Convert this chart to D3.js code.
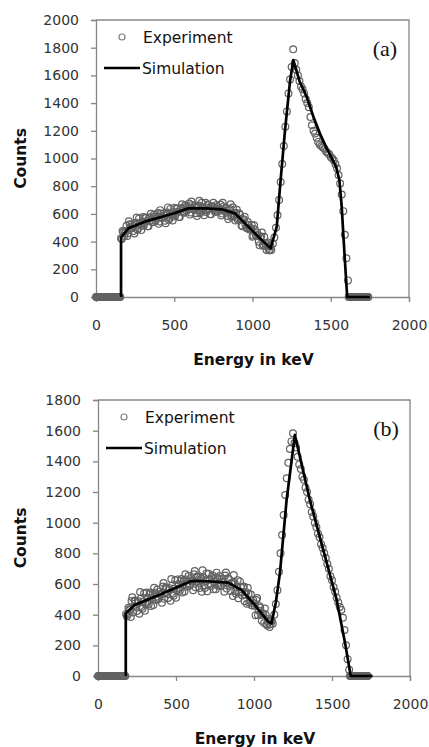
<!DOCTYPE html>
<html>
<head>
<meta charset="utf-8">
<script src="https://cdn.jsdelivr.net/npm/d3@7"></script>
<style>
  body { margin: 0; background: #fff; }
  svg { display: block; }
</style>
</head>
<body>
<div id="chart"></div>
<script>
// ---- data ----
const xTicks = [0, 500, 1000, 1500, 2000];
const yTicksA = [0, 200, 400, 600, 800, 1000, 1200, 1400, 1600, 1800, 2000];
const yTicksB = [0, 200, 400, 600, 800, 1000, 1200, 1400, 1600, 1800];
const legendLabels = ["Experiment", "Simulation"];

// simulation, panel (a)
const simA = [
  [160, 0], [160, 431], [207, 496], [313, 544], [420, 580], [500, 605], [590, 640],
  [700, 640], [803, 633], [888, 604], [973, 508], [1059, 411], [1116, 351],
  [1155, 508], [1176, 797], [1208, 1206], [1240, 1560], [1261, 1711], [1300, 1560],
  [1346, 1446], [1389, 1302], [1431, 1180], [1474, 1074], [1534, 941], [1555, 845],
  [1570, 652], [1585, 363], [1605, 0], [1750, 0]
];

// experiment, panel (a)
const expA = [
  [0, 0], [10, 0], [20, 0], [30, 0], [40, 0], [50, 0], [60, 0], [70, 0], [80, 0], [90, 0],
  [100, 0], [110, 0], [120, 0], [130, 0], [140, 0], [150, 0],
  [160, 425], [170, 477], [180, 443], [190, 477], [200, 441], [210, 547], [220, 497], [230, 526],
  [240, 476], [250, 525], [260, 574], [270, 499], [280, 528], [290, 483], [300, 578], [310, 533],
  [320, 571], [330, 510], [340, 568], [350, 601], [360, 540], [370, 593], [380, 551], [390, 575],
  [400, 528], [410, 627], [420, 575], [430, 603], [440, 551], [450, 599], [460, 647], [470, 570],
  [480, 598], [490, 552], [500, 645], [510, 599], [520, 638], [530, 577], [540, 635], [550, 669],
  [560, 608], [570, 662], [580, 621], [590, 645], [600, 595], [610, 690], [620, 635], [630, 660],
  [640, 605], [650, 650], [660, 695], [670, 615], [680, 640], [690, 590], [700, 680], [710, 629],
  [720, 663], [730, 597], [740, 652], [750, 681], [760, 615], [770, 665], [780, 619], [790, 639],
  [800, 588], [810, 681], [820, 622], [830, 644], [840, 585], [850, 627], [860, 669], [870, 585],
  [880, 607], [890, 552], [900, 630], [910, 569], [920, 593], [930, 516], [940, 560], [950, 579],
  [960, 502], [970, 541], [980, 487], [990, 496], [1000, 435], [1010, 518], [1020, 452], [1030, 466],
  [1040, 399], [1050, 433], [1060, 465], [1070, 375], [1080, 389], [1090, 339], [1100, 393], [1110, 338],
  [1120, 340], [1130, 385], [1140, 430], [1150, 500], [1160, 590], [1170, 700], [1180, 830], [1190, 960],
  [1200, 1090], [1210, 1230], [1220, 1340], [1230, 1470], [1240, 1570], [1250, 1660], [1260, 1788],
  [1270, 1690], [1280, 1640], [1290, 1600], [1300, 1560], [1310, 1520], [1320, 1500], [1330, 1470],
  [1340, 1430], [1350, 1400], [1360, 1370], [1370, 1300], [1380, 1240], [1390, 1200], [1400, 1180],
  [1410, 1150], [1420, 1120], [1430, 1100], [1440, 1090], [1450, 1080], [1460, 1070], [1470, 1050],
  [1480, 1040], [1490, 1030], [1500, 1010], [1510, 1000], [1520, 985], [1530, 960], [1540, 930],
  [1550, 880], [1560, 820], [1570, 740], [1580, 620], [1590, 450], [1600, 280], [1610, 120],
  [1620, 0], [1630, 0], [1640, 0], [1650, 0], [1660, 0], [1670, 0], [1680, 0], [1690, 0],
  [1700, 0], [1710, 0], [1720, 0], [1730, 0], [1740, 0]
];

// experiment, panel (a): channels between the ones above
const expAExtra = [
  [5, 0], [15, 0], [25, 0], [35, 0], [45, 0], [55, 0], [65, 0], [75, 0], [85, 0], [95, 0],
  [105, 0], [115, 0], [125, 0], [135, 0], [145, 0], [155, 0],
  [165, 419], [175, 467], [185, 460], [195, 514], [205, 461], [215, 525], [225, 494], [235, 513],
  [245, 458], [255, 537], [265, 486], [275, 566], [285, 515], [295, 545], [305, 515], [315, 574],
  [325, 548], [335, 511], [345, 575], [355, 553], [365, 541], [375, 579], [385, 563], [395, 606],
  [405, 545], [415, 603], [425, 571], [435, 589], [445, 532], [455, 610], [465, 558], [475, 636],
  [485, 585], [495, 613], [505, 582], [515, 641], [525, 615], [535, 578], [545, 642], [555, 621],
  [565, 610], [575, 649], [585, 633], [595, 675], [605, 610], [615, 665], [625, 630], [635, 645],
  [645, 585], [655, 660], [665, 605], [675, 680], [685, 625], [695, 650], [705, 614], [715, 668],
  [725, 637], [735, 597], [745, 656], [755, 630], [765, 615], [775, 649], [785, 629], [795, 668],
  [805, 602], [815, 654], [825, 615], [835, 627], [845, 563], [855, 635], [865, 577], [875, 648],
  [885, 589], [895, 606], [905, 559], [915, 603], [925, 562], [935, 510], [945, 559], [955, 523],
  [965, 496], [975, 521], [985, 491], [995, 520], [1005, 444], [1015, 487], [1025, 441], [1035, 445],
  [1045, 373], [1055, 436], [1065, 370], [1075, 435], [1085, 369], [1095, 383], [1105, 338], [1115, 367],
  [1615, 0], [1625, 0], [1635, 0], [1645, 0], [1655, 0], [1665, 0], [1675, 0], [1685, 0],
  [1695, 0], [1705, 0], [1715, 0], [1725, 0], [1735, 0]
];

// simulation, panel (b)
const simB = [
  [178, 0], [178, 409], [235, 463], [364, 517], [492, 572], [599, 620], [700, 618],
  [834, 609], [920, 561], [1005, 463], [1091, 354], [1112, 343], [1140, 480],
  [1166, 670], [1209, 1148], [1262, 1572], [1358, 1148], [1444, 822], [1530, 496],
  [1584, 213], [1620, 0], [1760, 0]
];

// experiment, panel (b)
const expB = [
  [0, 0], [10, 0], [20, 0], [30, 0], [40, 0], [50, 0], [60, 0], [70, 0], [80, 0], [90, 0],
  [100, 0], [110, 0], [120, 0], [130, 0], [140, 0], [150, 0], [160, 0], [170, 0],
  [180, 405], [190, 400], [200, 435], [210, 385], [220, 514], [230, 453], [240, 490], [250, 424],
  [260, 488], [270, 548], [280, 452], [290, 486], [300, 425], [310, 544], [320, 483], [330, 533],
  [340, 457], [350, 531], [360, 575], [370, 495], [380, 564], [390, 508], [400, 537], [410, 477],
  [420, 606], [430, 540], [440, 575], [450, 509], [460, 573], [470, 633], [480, 537], [490, 571],
  [500, 511], [510, 630], [520, 570], [530, 619], [540, 544], [550, 618], [560, 663], [570, 582],
  [580, 652], [590, 596], [600, 624], [610, 559], [620, 684], [630, 614], [640, 644], [650, 574],
  [660, 634], [670, 689], [680, 589], [690, 619], [700, 553], [710, 667], [720, 602], [730, 646],
  [740, 565], [750, 635], [760, 674], [770, 588], [780, 652], [790, 592], [800, 616], [810, 550],
  [820, 675], [830, 604], [840, 631], [850, 555], [860, 609], [870, 659], [880, 553], [890, 578],
  [900, 507], [910, 617], [920, 546], [930, 579], [940, 488], [950, 546], [960, 575], [970, 478],
  [980, 532], [990, 460], [1000, 474], [1010, 397], [1020, 509], [1030, 426], [1040, 444], [1050, 361],
  [1060, 408], [1070, 440], [1080, 338], [1090, 355], [1100, 320], [1110, 364], [1120, 340],
  [1130, 400], [1140, 470], [1150, 560], [1160, 680], [1170, 800], [1180, 920], [1190, 1050],
  [1200, 1180], [1210, 1290], [1220, 1390], [1230, 1480], [1240, 1530], [1250, 1583], [1260, 1520],
  [1270, 1490], [1280, 1430], [1290, 1380], [1300, 1350], [1310, 1300], [1320, 1280], [1330, 1230],
  [1340, 1200], [1350, 1150], [1360, 1120], [1370, 1070], [1380, 1040], [1390, 1000], [1400, 970],
  [1410, 930], [1420, 905], [1430, 860], [1440, 835], [1450, 800], [1460, 770], [1470, 730],
  [1480, 700], [1490, 650], [1500, 625], [1510, 580], [1520, 550], [1530, 510], [1540, 480],
  [1550, 450], [1560, 430], [1570, 380], [1580, 300], [1590, 200], [1600, 110], [1610, 40],
  [1620, 0], [1630, 0], [1640, 0], [1650, 0], [1660, 0], [1670, 0], [1680, 0], [1690, 0],
  [1700, 0], [1710, 0], [1720, 0], [1730, 0]
];

// experiment, panel (b): channels between the ones above
const expBExtra = [
  [5, 0], [15, 0], [25, 0], [35, 0], [45, 0], [55, 0], [65, 0], [75, 0], [85, 0], [95, 0],
  [105, 0], [115, 0], [125, 0], [135, 0], [145, 0], [155, 0], [165, 0], [175, 0],
  [185, 390], [195, 445], [205, 430], [215, 489], [225, 414], [235, 492], [245, 452], [255, 476],
  [265, 406], [275, 505], [285, 439], [295, 538], [305, 472], [315, 511], [325, 470], [335, 545],
  [345, 509], [355, 463], [365, 543], [375, 517], [385, 501], [395, 550], [405, 530], [415, 584],
  [425, 503], [435, 578], [445, 537], [455, 561], [465, 491], [475, 590], [485, 524], [495, 624],
  [505, 558], [515, 598], [525, 557], [535, 632], [545, 596], [555, 551], [565, 630], [575, 605],
  [585, 589], [595, 638], [605, 614], [615, 664], [625, 579], [635, 649], [645, 604], [655, 624],
  [665, 549], [675, 644], [685, 574], [695, 669], [705, 598], [715, 632], [725, 587], [735, 656],
  [745, 615], [755, 565], [765, 639], [775, 608], [785, 587], [795, 632], [805, 606], [815, 655],
  [825, 570], [835, 638], [845, 588], [855, 602], [865, 522], [875, 611], [885, 536], [895, 625],
  [905, 550], [915, 579], [925, 525], [935, 584], [945, 532], [955, 471], [965, 534], [975, 493],
  [985, 461], [995, 495], [1005, 458], [1015, 496], [1025, 398], [1035, 455], [1045, 398], [1055, 405],
  [1065, 345], [1075, 400], [1085, 330], [1095, 372], [1105, 337], [1115, 357],
  [1615, 0], [1625, 0], [1635, 0], [1645, 0], [1655, 0], [1665, 0], [1675, 0], [1685, 0],
  [1695, 0], [1705, 0], [1715, 0], [1725, 0]
];

// ---- drawing ----
const W = 429, H = 747;
const sans = "'DejaVu Sans', Verdana, sans-serif";
const svg = d3.select("#chart").append("svg")
  .attr("width", W)
  .attr("height", H)
  .style("font-family", sans);

const axisColor = "#868686";
const markerColor = "#626262";

function drawPanel(cfg) {
  const { box, yMax, yTicks, exp, sim, tag, legendY } = cfg;

  const x = d3.scaleLinear().domain([0, 2000]).range([box.left, box.right]);
  const y = d3.scaleLinear().domain([0, yMax]).range([box.bottom, box.top]);

  const g = svg.append("g");

  // plot frame (top + right)
  g.append("path")
    .attr("d", `M${box.left},${box.top}H${box.right}V${box.bottom}`)
    .attr("fill", "none")
    .attr("stroke", axisColor)
    .attr("stroke-width", 1.3);

  const xAxis = g.append("g")
    .attr("transform", `translate(0,${box.bottom})`)
    .call(d3.axisBottom(x).tickValues(xTicks).tickSize(5).tickPadding(18).tickFormat(d3.format("d")));

  const yAxis = g.append("g")
    .attr("transform", `translate(${box.left},0)`)
    .call(d3.axisLeft(y).tickValues(yTicks).tickSize(5).tickPadding(12).tickFormat(d3.format("d")));

  [xAxis, yAxis].forEach(a => {
    a.select(".domain").attr("stroke", axisColor).attr("stroke-width", 1.3);
    a.selectAll(".tick line").attr("stroke", axisColor).attr("stroke-width", 1.3);
    a.selectAll(".tick text")
      .attr("fill", "#333")
      .style("font-size", "14px")
      .style("font-family", sans);
  });

  // experiment markers
  g.append("g").selectAll("circle")
    .data(exp)
    .join("circle")
    .attr("cx", d => x(d[0]))
    .attr("cy", d => y(d[1]))
    .attr("r", 3.4)
    .attr("fill", "none")
    .attr("stroke", markerColor)
    .attr("stroke-width", 1.2);

  // simulation line
  g.append("path")
    .datum(sim)
    .attr("d", d3.line().x(d => x(d[0])).y(d => y(d[1])))
    .attr("fill", "none")
    .attr("stroke", "#000")
    .attr("stroke-width", 2.7)
    .attr("stroke-linejoin", "round");

  // legend
  const lg = g.append("g");
  lg.append("circle")
    .attr("cx", box.left + 26).attr("cy", legendY)
    .attr("r", 3).attr("fill", "none").attr("stroke", "#808080").attr("stroke-width", 1.2);
  lg.append("text")
    .attr("x", box.left + 47).attr("y", legendY).attr("dy", "0.36em")
    .style("font-size", "15.5px").attr("fill", "#111")
    .text(legendLabels[0]);
  lg.append("line")
    .attr("x1", box.left + 8).attr("x2", box.left + 44)
    .attr("y1", legendY + 31).attr("y2", legendY + 31)
    .attr("stroke", "#000").attr("stroke-width", 2.7);
  lg.append("text")
    .attr("x", box.left + 46).attr("y", legendY + 31).attr("dy", "0.36em")
    .style("font-size", "15.5px").attr("fill", "#111")
    .text(legendLabels[1]);

  // panel tag
  g.append("text")
    .attr("x", box.right - 24).attr("y", box.top + 36)
    .attr("text-anchor", "middle")
    .style("font-family", "'Liberation Serif', 'Times New Roman', serif")
    .style("font-size", "22px")
    .attr("fill", "#111")
    .text(tag);

  // axis titles
  g.append("text")
    .attr("x", (box.left + box.right) / 2 + 1)
    .attr("y", box.bottom + 68)
    .attr("text-anchor", "middle")
    .style("font-size", "15.5px").style("font-weight", "bold").attr("fill", "#111")
    .text("Energy in keV");

  g.append("text")
    .attr("transform", `translate(20,${(box.top + box.bottom) / 2}) rotate(-90)`)
    .attr("text-anchor", "middle")
    .attr("dy", "0.36em")
    .style("font-size", "15.5px").style("font-weight", "bold").attr("fill", "#111")
    .text("Counts");
}

drawPanel({
  box: { left: 96, right: 409, top: 20, bottom: 297 },
  yMax: 2000, yTicks: yTicksA, exp: expA.concat(expAExtra), sim: simA, tag: "(a)", legendY: 37
});

drawPanel({
  box: { left: 98, right: 410, top: 400, bottom: 676 },
  yMax: 1800, yTicks: yTicksB, exp: expB.concat(expBExtra), sim: simB, tag: "(b)", legendY: 417
});
</script>
</body>
</html>
